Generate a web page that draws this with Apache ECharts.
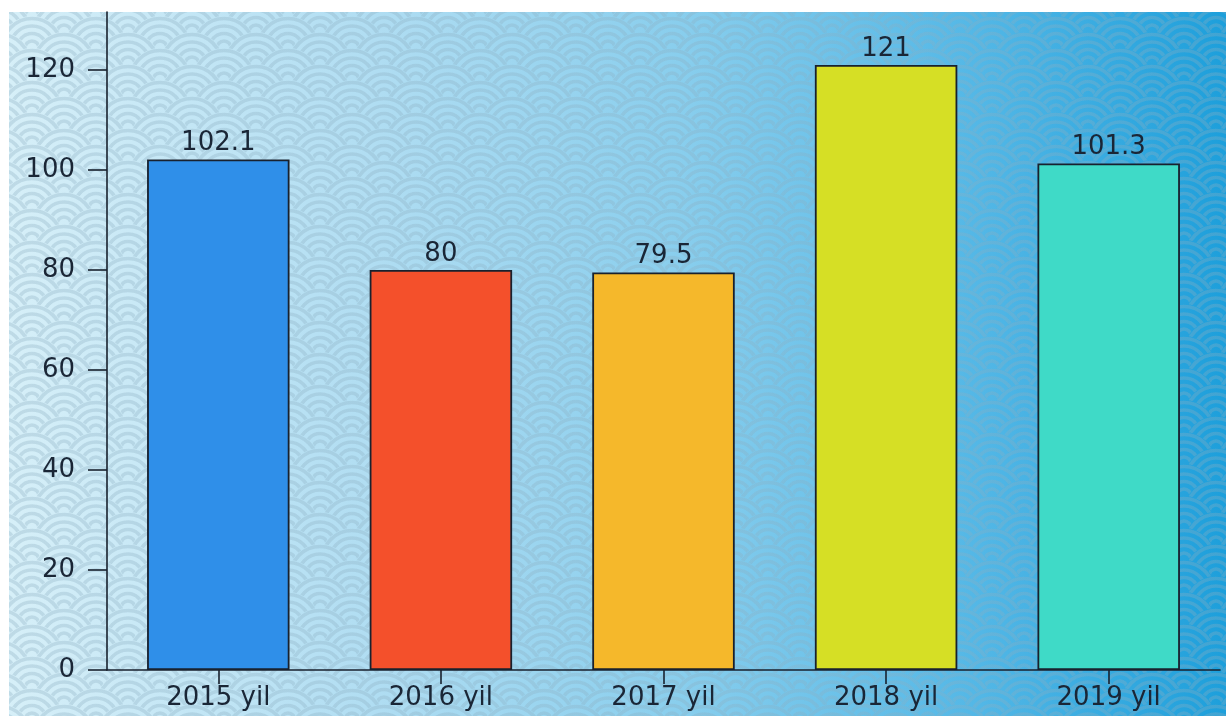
<!DOCTYPE html>
<html>
<head>
<meta charset="utf-8">
<script src="https://cdn.jsdelivr.net/npm/echarts@6/dist/echarts.min.js"></script>
<style>
html,body{margin:0;padding:0;background:#fff;}
#chart{width:1226px;height:716px;}
</style>
</head>
<body>
<div id="chart"></div>
<script>
var categories = ['2015 yil', '2016 yil', '2017 yil', '2018 yil', '2019 yil'];
var values = [102.1, 80, 79.5, 121, 101.3];
var barColors = ['#2f8fe9', '#f4502b', '#f5b82b', '#d6df25', '#3fdac7'];
var yTicks = [0, 20, 40, 60, 80, 100, 120];

function makeTile() {
  var R = 32, W = 64, H = 32;
  var c = document.createElement('canvas');
  c.width = W; c.height = H;
  var ctx = c.getContext('2d');
  var scales = [];
  for (var j = -3; j <= 3; j++) {
    for (var k = -1; k <= 2; k++) {
      scales.push([k * W, j * H]);
      scales.push([k * W + W / 2, j * H + H / 2]);
    }
  }
  scales.sort(function (a, b) { return a[1] - b[1]; });
  scales.forEach(function (s) {
    ctx.globalCompositeOperation = 'destination-out';
    ctx.beginPath(); ctx.arc(s[0], s[1], R, 0, Math.PI * 2); ctx.fill();
    ctx.globalCompositeOperation = 'source-over';
    ctx.strokeStyle = 'rgba(140,175,192,0.32)';
    ctx.lineWidth = 3.6;
    [R - 2.5, R - 10, R - 17.5, R - 25].forEach(function (r) {
      ctx.beginPath(); ctx.arc(s[0], s[1], r, 0, Math.PI * 2); ctx.stroke();
    });
  });
  return c;
}

var chart = echarts.init(document.getElementById('chart'), null, {renderer: 'canvas'});
var axisColor = '#18212e';
var font = 'DejaVu Sans';
chart.setOption({
  backgroundColor: '#ffffff',
  animation: false,
  graphic: [
    {type: 'rect', z: -20, silent: true, shape: {x: 9, y: 12, width: 1217, height: 704},
     style: {fill: new echarts.graphic.LinearGradient(0, 0, 1, 0, [
       {offset: 0, color: '#d6eff8'}, {offset: 0.3, color: '#b0ddf2'},
       {offset: 0.55, color: '#89ceed'}, {offset: 0.8, color: '#52b7e6'},
       {offset: 1, color: '#1d9fdb'}])}},
    {type: 'rect', z: -19, silent: true, shape: {x: 9, y: 12, width: 1217, height: 704},
     style: {fill: {image: makeTile(), repeat: 'repeat'}}}
  ],
  grid: {left: 107, right: 6, top: 12, bottom: 46, containLabel: false},
  xAxis: {
    type: 'category',
    data: categories,
    axisLine: {show: true, lineStyle: {color: axisColor, width: 1.6}},
    axisTick: {show: true, alignWithLabel: true, length: 14, lineStyle: {color: axisColor, width: 1.6}},
    axisLabel: {color: '#1a2636', fontSize: 26, fontFamily: font, margin: 15},
    splitLine: {show: false}
  },
  yAxis: {
    type: 'value',
    min: 0, max: 131.6, interval: 20,
    axisLine: {show: true, lineStyle: {color: axisColor, width: 1.6}},
    axisTick: {show: true, length: 19, customValues: yTicks, lineStyle: {color: axisColor, width: 1.6}},
    axisLabel: {color: '#1a2636', fontSize: 26, fontFamily: font, margin: 32, customValues: yTicks},
    splitLine: {show: false}
  },
  series: [{
    type: 'bar',
    barWidth: '64%',
    data: values.map(function (v, i) {
      return {value: v, itemStyle: {color: barColors[i]}};
    }),
    itemStyle: {borderColor: axisColor, borderWidth: 1.8},
    label: {show: true, position: 'top', distance: 3, color: '#1a2636', fontSize: 26, fontFamily: font}
  }]
});
</script>
</body>
</html>
